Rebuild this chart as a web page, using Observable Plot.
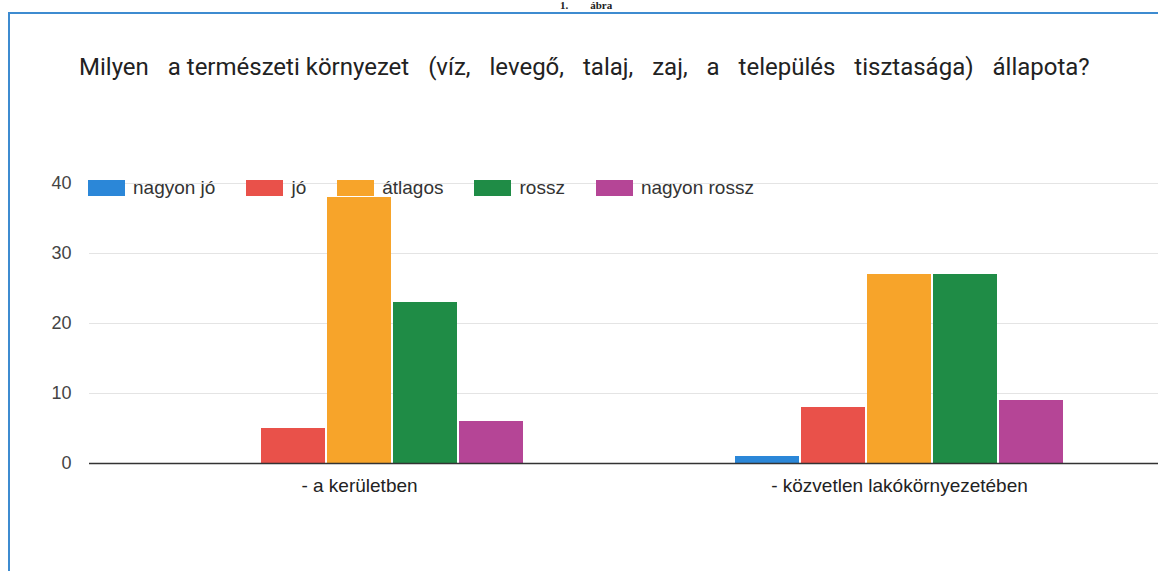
<!DOCTYPE html>
<html>
<head>
<meta charset="utf-8">
<script src="https://cdn.jsdelivr.net/npm/d3@7"></script>
<script src="https://cdn.jsdelivr.net/npm/@observablehq/plot@0.6"></script>
<style>
  html, body { margin: 0; padding: 0; background: #fff; }
  #wrap { position: relative; width: 1158px; height: 571px; overflow: hidden; background: #fff; }
  #frame { position: absolute; left: 8px; top: 12px; width: 1200px; height: 600px;
           border-left: 2px solid #3d8bd0; border-top: 2px solid #3d8bd0; }
  #fig { position: absolute; left: 560px; top: -1px; font: bold 11px "Liberation Serif", "DejaVu Serif", serif; color: #222; white-space: pre; line-height: 12px; }
  #title { position: absolute; left: 79px; top: 53px; font: 24px Roboto, "Noto Sans", sans-serif; color: #222;
           white-space: nowrap; word-spacing: 13px; }
  #title span { word-spacing: 0; }
  #chart { position: absolute; left: 0; top: 0; }
  #legend { position: absolute; left: 88px; top: 171px; }
  .lg-swatches { font-family: "Liberation Sans", Arial, sans-serif !important; font-size: 19px !important; color: #333; }
  .lg-swatch { margin-right: 31px !important; }
  .lg-swatch > svg { margin-right: 8px !important; }
</style>
</head>
<body>
<div id="wrap">
  <div id="frame"></div>
  <div id="fig">1.        ábra</div>
  <div id="title">Milyen <span>a természeti környezet</span> (víz, levegő, talaj, zaj, a település tisztasága) állapota?</div>
  <div id="chart"></div>
  <div id="legend"></div>
</div>
<script>
const groups = ["- a kerületben", "- közvetlen lakókörnyezetében"];
const categories = ["nagyon jó", "jó", "átlagos", "rossz", "nagyon rossz"];
const keruletben = [0, 5, 38, 23, 6];
const kozvetlen = [1, 8, 27, 27, 9];
const colors = ["#2b87d8", "#e9514a", "#f7a42a", "#1f8c46", "#b54596"];
const yTicks = [0, 10, 20, 30, 40];

const series = [keruletben, kozvetlen];
const data = groups.flatMap((g, gi) =>
  categories.map((c, ci) => ({ group: g, cat: c, value: series[gi][ci] }))
);

const chart = Plot.plot({
  width: 1158,
  height: 571,
  marginTop: 183,
  marginBottom: 108,
  marginLeft: 89,
  marginRight: -11,
  style: { fontFamily: "'Liberation Sans', Arial, sans-serif", fontSize: "18px", background: "transparent", overflow: "visible" },
  fx: { domain: groups, padding: 0, label: null },
  x: { domain: categories, paddingInner: 0.03, paddingOuter: 1.545, axis: null },
  y: { domain: [0, 40], axis: null },
  color: { domain: categories, range: colors },
  marks: [
    Plot.gridY(yTicks.filter(d => d > 0), { stroke: "#e4e4e4", strokeOpacity: 1 }),
    Plot.barY(data, { fx: "group", x: "cat", y: "value", fill: "cat" }),
    Plot.ruleY([0], { stroke: "#333", strokeWidth: 1.5 }),
    Plot.axisY(yTicks, { tickSize: 0, tickPadding: 18, fontSize: 18, fill: "#444", label: null }),
    Plot.axisFx({ anchor: "bottom", tickSize: 0, tickPadding: 15, fontSize: 19, fill: "#222", label: null })
  ]
});
document.getElementById("chart").append(chart);

const legend = Plot.legend({
  color: { domain: categories, range: colors },
  legend: "swatches",
  swatchWidth: 37,
  swatchHeight: 16,
  className: "lg"
});
document.getElementById("legend").append(legend);
</script>
</body>
</html>
